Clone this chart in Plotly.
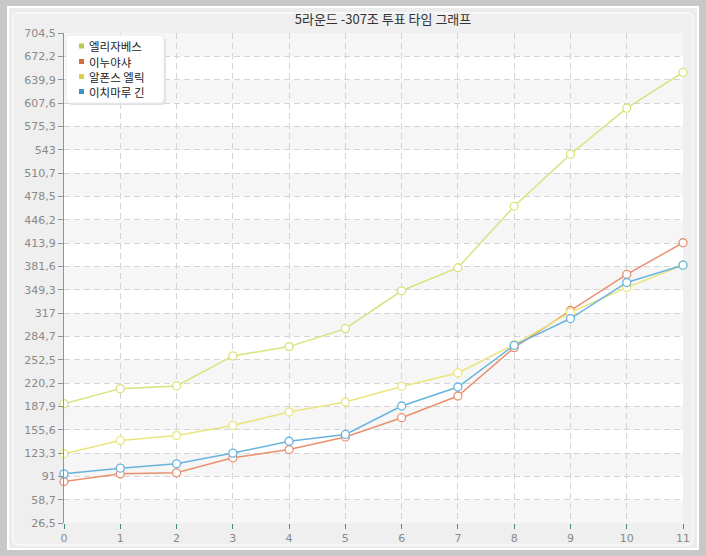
import plotly.graph_objects as go
import numpy as np

# ---------------- data ----------------
title_text = "5라운드 -307조 투표 타임 그래프"
rounds = list(range(12))
series_names = ["엘리자베스", "이누야샤", "알폰스 엘릭", "이치마루 긴"]
elizabeth = [191.6, 212.4, 216.1, 257.7, 270.6, 295.5, 347.8, 379.7, 464.7, 536.8, 600.5, 650.0]
inuyasha = [83.9, 94.5, 95.9, 116.7, 128.2, 145.4, 172.2, 202.2, 269.2, 320.5, 370.4, 414.3]
alphonse = [122.3, 140.7, 147.6, 161.5, 180.1, 193.9, 215.5, 234.1, 273.4, 318.0, 352.4, 383.3]
ichimaru = [94.5, 102.4, 108.4, 123.2, 139.6, 149.0, 188.4, 214.7, 272.4, 309.4, 359.3, 383.3]
y_tick_labels = ["26,5", "58,7", "91", "123,3", "155,6", "187,9", "220,2", "252,5", "284,7",
                 "317", "349,3", "381,6", "413,9", "446,2", "478,5", "510,7", "543", "575,3",
                 "607,6", "639,9", "672,2", "704,5"]
y_min, y_max = 26.5, 704.5

# ---------------- styles ----------------
line_colors = ["#d9e27c", "#e8916f", "#ebe57e", "#68b4de"]
legend_colors = ["#b9c94e", "#d0703f", "#d8d048", "#3f8fc8"]
series_values = [elizabeth, inuyasha, alphonse, ichimaru]

W, H = 706, 556
L, R, T, B = 64, 683, 33, 523
PW, PH = R - L, B - T


def px(X):
    return (X - L) / PW


def py(Y):
    return (B - Y) / PH


tickvals = list(np.linspace(y_min, y_max, len(y_tick_labels)))

fig = go.Figure()
for name, vals, col in zip(series_names, series_values, line_colors):
    fig.add_trace(go.Scatter(
        x=rounds, y=vals, name=name, mode="lines+markers",
        line=dict(color=col, width=1.5),
        marker=dict(symbol="circle", size=8, color="white", line=dict(color=col, width=1.3)),
        cliponaxis=False, showlegend=False, hoverinfo="skip",
    ))

shapes = []
# outer panel
shapes.append(dict(type="rect", xref="paper", yref="paper",
                   x0=px(8), x1=px(698), y0=py(549), y1=py(7),
                   fillcolor="#ececec", line=dict(color="white", width=2), layer="below"))


def rounded(x0, y0, x1, y1, r):
    return (f"M {px(x0 + r)} {py(y0)} L {px(x1 - r)} {py(y0)} "
            f"Q {px(x1)} {py(y0)} {px(x1)} {py(y0 + r)} L {px(x1)} {py(y1 - r)} "
            f"Q {px(x1)} {py(y1)} {px(x1 - r)} {py(y1)} L {px(x0 + r)} {py(y1)} "
            f"Q {px(x0)} {py(y1)} {px(x0)} {py(y1 - r)} L {px(x0)} {py(y0 + r)} "
            f"Q {px(x0)} {py(y0)} {px(x0 + r)} {py(y0)} Z")


shapes.append(dict(type="path", xref="paper", yref="paper", path=rounded(13, 13, 693, 545, 6),
                   fillcolor="#efefef", line=dict(color="#fafafa", width=1.5), layer="below"))

# alternating bands in plot area
for i in range(len(tickvals) - 1):
    shapes.append(dict(type="rect", xref="x", yref="y", x0=rounds[0], x1=rounds[-1],
                       y0=tickvals[i], y1=tickvals[i + 1],
                       fillcolor="#f6f6f6" if i % 2 == 0 else "#ffffff",
                       line=dict(width=0), layer="below"))

# legend box
shapes.append(dict(type="path", xref="paper", yref="paper", path=rounded(68, 37, 166, 105, 5),
                   fillcolor="#e2e2e2", line=dict(width=0), layer="above"))
shapes.append(dict(type="path", xref="paper", yref="paper", path=rounded(66, 35, 164, 103, 5),
                   fillcolor="white", line=dict(color="#ececec", width=1), layer="above"))

annotations = []
row_y = [46, 61.5, 76.5, 91.5]
for name, col, yy in zip(series_names, legend_colors, row_y):
    shapes.append(dict(type="rect", xref="paper", yref="paper",
                       x0=px(79), x1=px(84), y0=py(yy + 2.5), y1=py(yy - 2.5),
                       fillcolor=col, line=dict(width=0), layer="above"))
    annotations.append(dict(xref="paper", yref="paper", x=px(88), y=py(yy), text=name,
                            showarrow=False, xanchor="left", yanchor="middle",
                            height=13, borderpad=0,
                            font=dict(size=11.5, color="#222222",
                                      family="Noto Sans CJK KR, sans-serif")))

fig.update_layout(
    width=W, height=H,
    margin=dict(l=L, r=W - R, t=T, b=H - B, autoexpand=False),
    paper_bgcolor="#c8c8c8",
    plot_bgcolor="white",
    title=dict(text=title_text, x=383 / W, xanchor="center", y=1 - 19 / H, yanchor="middle",
               font=dict(size=13, color="#333333", family="Noto Sans CJK KR, sans-serif")),
    shapes=shapes,
    annotations=annotations,
    showlegend=False,
    hovermode=False,
    font=dict(family="Noto Sans CJK KR, sans-serif"),
)

fig.update_xaxes(
    range=[rounds[0], rounds[-1]], tickvals=rounds, ticktext=[str(r) for r in rounds],
    showgrid=True, gridcolor="#d4d4d4", griddash="6px,4px", gridwidth=1,
    zeroline=False, showline=False,
    ticks="outside", ticklen=5, tickcolor="#3f8a7e", tickwidth=1,
    tickfont=dict(size=11, color="#8a8a8a", family="DejaVu Sans, sans-serif"),
)
fig.update_yaxes(
    range=[y_min, y_max], tickvals=tickvals, ticktext=y_tick_labels,
    showgrid=True, gridcolor="#d4d4d4", griddash="6px,4px", gridwidth=1,
    zeroline=False, showline=True, linecolor="#8c9694", linewidth=1,
    ticks="outside", ticklen=5, tickcolor="#8c9694", tickwidth=1,
    tickfont=dict(size=11, color="#8a8a8a", family="DejaVu Sans, sans-serif"),
)

fig.write_html("out.html", config={"displayModeBar": False},
               post_script="document.body.style.margin='0';")
